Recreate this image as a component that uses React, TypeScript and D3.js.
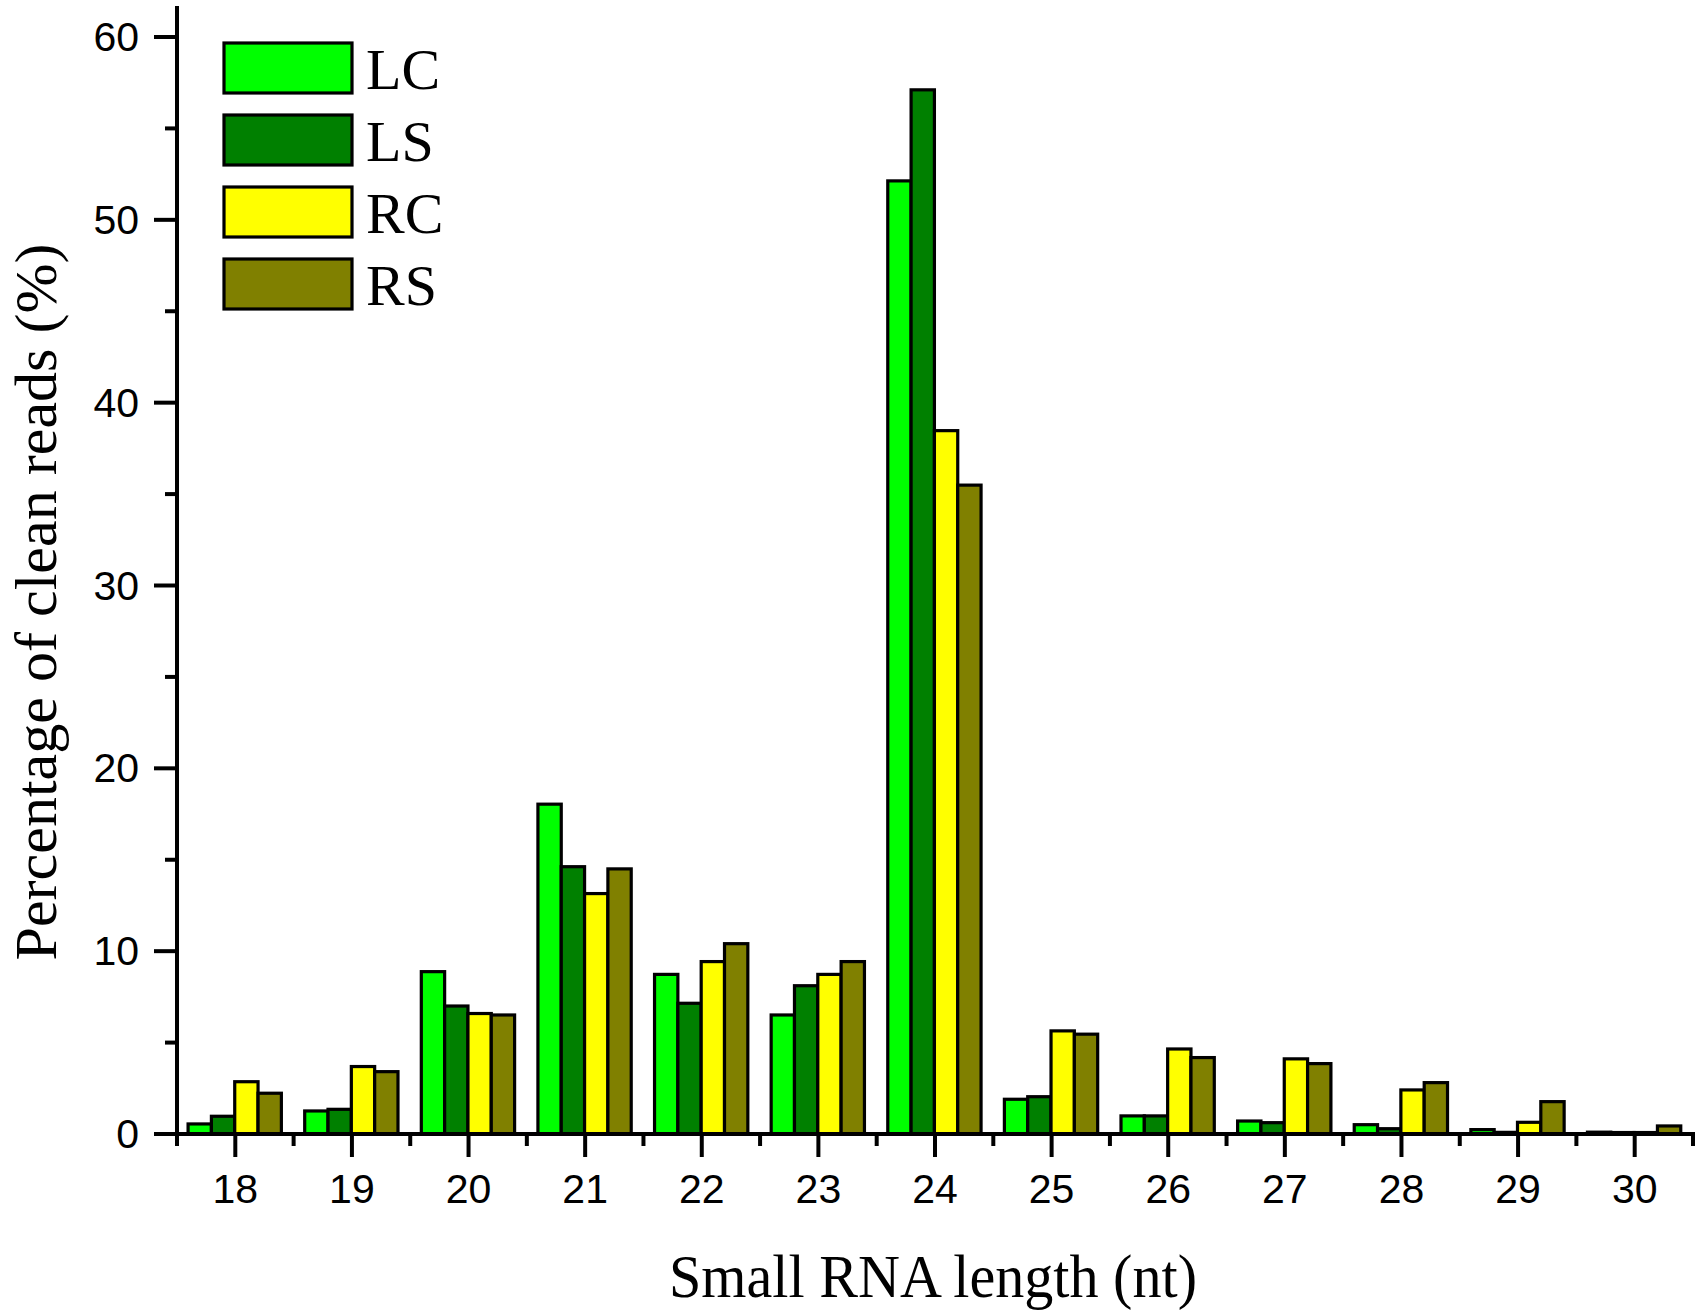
import React from "react";
import * as d3 from "d3";

const categories = [18, 19, 20, 21, 22, 23, 24, 25, 26, 27, 28, 29, 30];
const seriesNames = ["LC", "LS", "RC", "RS"];
const seriesColors = ["#00FF00", "#008000", "#FFFF00", "#808000"];
const LC = [0.55, 1.26, 8.88, 18.04, 8.73, 6.51, 52.13, 1.9, 0.99, 0.71, 0.51, 0.24, 0.1];
const LS = [0.97, 1.35, 7.0, 14.62, 7.15, 8.11, 57.11, 2.04, 0.99, 0.62, 0.29, 0.09, 0.08];
const RC = [2.86, 3.69, 6.59, 13.15, 9.43, 8.73, 38.47, 5.64, 4.65, 4.11, 2.41, 0.64, 0.08];
const RS = [2.23, 3.41, 6.51, 14.5, 10.41, 9.43, 35.49, 5.46, 4.18, 3.85, 2.81, 1.77, 0.44];
const yMajorTicks = [0, 10, 20, 30, 40, 50, 60];
const yMinorTicks = [5, 15, 25, 35, 45, 55];
const xMinorTicks = [17.5, 18.5, 19.5, 20.5, 21.5, 22.5, 23.5, 24.5, 25.5, 26.5, 27.5, 28.5, 29.5, 30.5];
const xTitle = "Small RNA length (nt)";
const yTitle = "Percentage of clean reads (%)";

const seriesValues = [LC, LS, RC, RS];

export default function App() {
  const W = 1700;
  const H = 1314;
  const x = d3.scaleLinear().domain([17.5, 30.5]).range([177, 1693]);
  const y = d3.scaleLinear().domain([0, 60]).range([1134, 37]);
  const yTop = y.invert(6);
  const barW = 0.2;
  const groupOffset = -0.405;
  const sansFont = "'Liberation Sans', Arial, sans-serif";
  const serifFont = "'Liberation Serif', 'Times New Roman', serif";
  const axisW = 4;

  return (
    <svg
      width={W}
      height={H}
      style={{ position: "absolute", left: 0, top: 0, background: "#fff" }}
    >
      <rect x={0} y={0} width={W} height={H} fill="#fff" />
      {/* bars */}
      {seriesValues.map((vals, si) =>
        vals.map((v, ci) => {
          const x0 = x(categories[ci] + groupOffset + si * barW);
          const x1 = x(categories[ci] + groupOffset + (si + 1) * barW);
          return (
            <rect
              key={`b-${si}-${ci}`}
              x={x0}
              y={y(v)}
              width={x1 - x0}
              height={y(0) - y(v)}
              fill={seriesColors[si]}
              stroke="#000"
              strokeWidth={3.2}
            />
          );
        })
      )}
      {/* y axis */}
      <line x1={x(17.5)} x2={x(17.5)} y1={y(0) + 2} y2={y(yTop)} stroke="#000" strokeWidth={axisW} />
      {yMajorTicks.map((t) => (
        <g key={`ym-${t}`}>
          <line x1={x(17.5) - 23} x2={x(17.5)} y1={y(t)} y2={y(t)} stroke="#000" strokeWidth={4} />
          <text
            x={x(17.5) - 38}
            y={y(t)}
            textAnchor="end"
            dominantBaseline="central"
            fontFamily={sansFont}
            fontSize={41}
            fill="#000"
          >
            {t}
          </text>
        </g>
      ))}
      {yMinorTicks.map((t) => (
        <line key={`yn-${t}`} x1={x(17.5) - 12} x2={x(17.5)} y1={y(t)} y2={y(t)} stroke="#000" strokeWidth={4} />
      ))}
      {/* x axis */}
      <line x1={x(17.5) - 2} x2={x(30.5) + 2} y1={y(0)} y2={y(0)} stroke="#000" strokeWidth={axisW} />
      {categories.map((c) => (
        <g key={`xm-${c}`}>
          <line x1={x(c)} x2={x(c)} y1={y(0)} y2={y(0) + 23} stroke="#000" strokeWidth={4} />
          <text
            x={x(c)}
            y={1203}
            textAnchor="middle"
            fontFamily={sansFont}
            fontSize={41}
            fill="#000"
          >
            {c}
          </text>
        </g>
      ))}
      {xMinorTicks.map((t) => (
        <line key={`xn-${t}`} x1={x(t)} x2={x(t)} y1={y(0)} y2={y(0) + 12} stroke="#000" strokeWidth={4} />
      ))}
      {/* axis titles */}
      <text
        x={933}
        y={1297}
        textAnchor="middle"
        fontFamily={serifFont}
        fontSize={62}
        textLength={528}
        lengthAdjust="spacingAndGlyphs"
        fill="#000"
      >
        {xTitle}
      </text>
      <text
        transform={`translate(56,602) rotate(-90)`}
        x={0}
        y={0}
        textAnchor="middle"
        fontFamily={serifFont}
        fontSize={60}
        textLength={717}
        lengthAdjust="spacingAndGlyphs"
        fill="#000"
      >
        {yTitle}
      </text>
      {/* legend */}
      {seriesNames.map((n, i) => (
        <g key={`lg-${n}`}>
          <rect
            x={224}
            y={43 + i * 72}
            width={128}
            height={50}
            fill={seriesColors[i]}
            stroke="#000"
            strokeWidth={3.2}
          />
          <text
            x={366}
            y={43 + i * 72 + 46}
            fontFamily={serifFont}
            fontSize={58}
            fill="#000"
          >
            {n}
          </text>
        </g>
      ))}
    </svg>
  );
}
